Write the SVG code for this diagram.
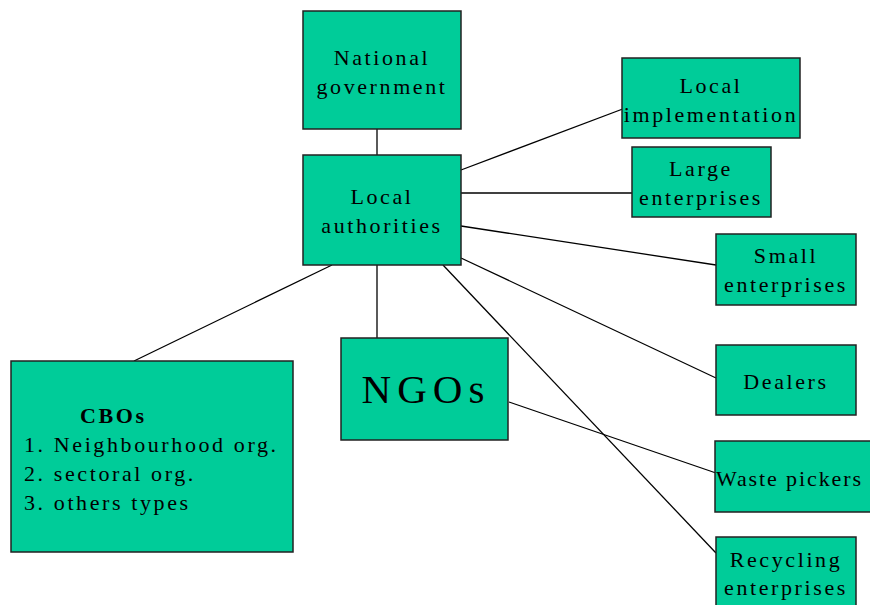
<svg xmlns="http://www.w3.org/2000/svg" width="870" height="605" viewBox="0 0 870 605">
<style>
.box{fill:#00CC99;stroke:#222;stroke-width:1.5}
.t{font-family:"Liberation Serif","Times New Roman",serif;font-size:22px;letter-spacing:2.6px;fill:#000}
.c{text-anchor:middle}
.e{stroke:#000;stroke-width:1.3;fill:none}
</style>
<rect width="870" height="605" fill="#fff"/>
<g id="connectors">
<line class="e" x1="377" y1="129" x2="377" y2="155"/>
<line class="e" x1="461" y1="170" x2="628" y2="107"/>
<line class="e" x1="461" y1="193" x2="632" y2="193"/>
<line class="e" x1="461" y1="226" x2="716" y2="265"/>
<line class="e" x1="461" y1="258" x2="716" y2="378"/>
<line class="e" x1="443" y1="265" x2="716" y2="553"/>
<line class="e" x1="377" y1="265" x2="377" y2="338"/>
<line class="e" x1="332" y1="265" x2="134" y2="361"/>
<line class="e" x1="509" y1="402" x2="716" y2="473"/>
</g>
<g id="national">
<rect class="box" x="303" y="11" width="158" height="118"/>
<text class="t c" x="382" y="65">National</text>
<text class="t c" x="382" y="94">government</text>
</g>
<g id="local">
<rect class="box" x="303" y="155" width="158" height="110"/>
<text class="t c" x="382" y="204">Local</text>
<text class="t c" x="382" y="233">authorities</text>
</g>
<g id="implementation">
<rect class="box" x="622" y="58" width="178" height="80"/>
<text class="t c" x="711" y="93">Local</text>
<text class="t c" x="711" y="122">implementation</text>
</g>
<g id="large">
<rect class="box" x="632" y="147" width="139" height="70"/>
<text class="t c" x="701" y="176">Large</text>
<text class="t c" x="701" y="205">enterprises</text>
</g>
<g id="small">
<rect class="box" x="716" y="234" width="140" height="71"/>
<text class="t c" x="786" y="263">Small</text>
<text class="t c" x="786" y="292">enterprises</text>
</g>
<g id="dealers">
<rect class="box" x="716" y="345" width="140" height="70"/>
<text class="t c" x="786" y="389">Dealers</text>
</g>
<g id="waste">
<rect class="box" x="715" y="441" width="160" height="71"/>
<text class="t" x="716" y="486" style="letter-spacing:1.9px">Waste pickers</text>
</g>
<g id="recycling">
<rect class="box" x="716" y="537" width="140" height="75"/>
<text class="t c" x="786" y="567">Recycling</text>
<text class="t c" x="786" y="595">enterprises</text>
</g>
<g id="ngos">
<rect class="box" x="341" y="338" width="167" height="102"/>
<text class="t c" x="426" y="403" style="font-size:41px;letter-spacing:6px">NGOs</text>
</g>
<g id="cbos">
<rect class="box" x="11" y="361" width="282" height="191"/>
<text class="t" x="80" y="423" style="font-weight:bold">CBOs</text>
<text class="t" x="24" y="452">1. Neighbourhood org.</text>
<text class="t" x="24" y="481">2. sectoral org.</text>
<text class="t" x="24" y="510">3. others types</text>
</g>
</svg>
